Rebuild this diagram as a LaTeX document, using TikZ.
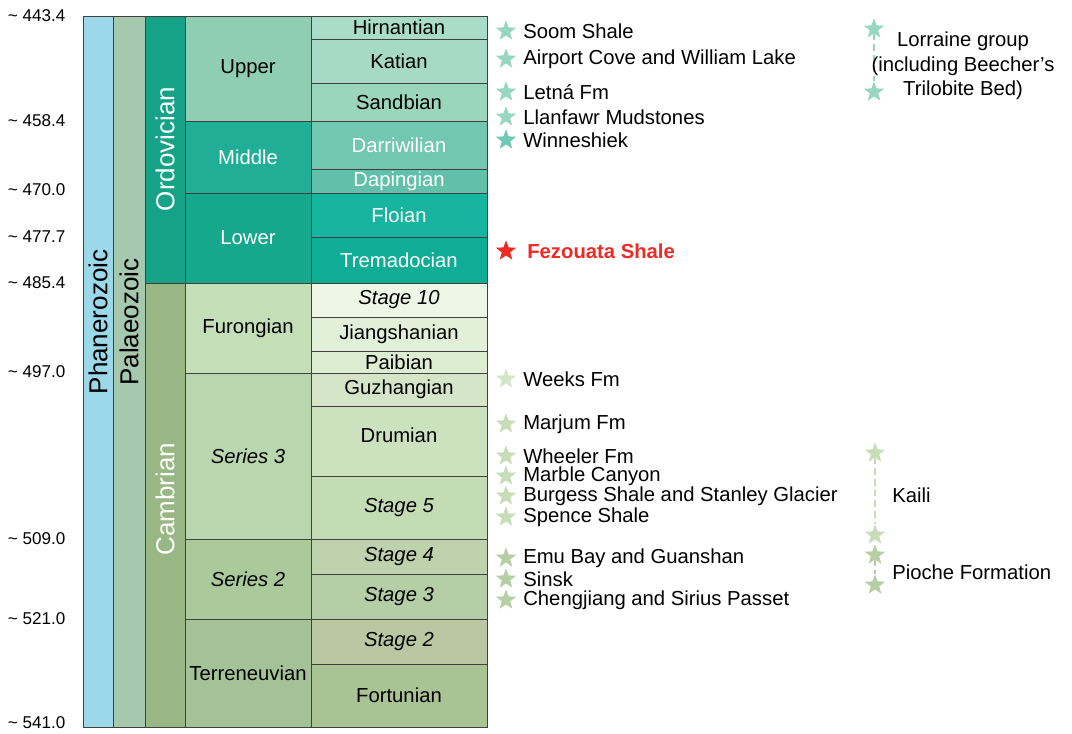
\documentclass[tikz,border=0pt]{standalone}
\usepackage{fontspec}
\setmainfont{Liberation Sans}
\usetikzlibrary{shapes.geometric, positioning, fit}

\definecolor{phan}{HTML}{9AD8EA}
\definecolor{palaeo}{HTML}{A6C8AE}
\definecolor{ordo}{HTML}{16A287}
\definecolor{camb}{HTML}{99B784}
\definecolor{upper}{HTML}{90CEB3}
\definecolor{middle}{HTML}{20AF96}
\definecolor{lower}{HTML}{15A88D}
\definecolor{hirn}{HTML}{AADDC9}
\definecolor{kati}{HTML}{A6DAC6}
\definecolor{sand}{HTML}{9AD5BC}
\definecolor{darri}{HTML}{72C7B3}
\definecolor{dapi}{HTML}{62C0AA}
\definecolor{floi}{HTML}{17B4A0}
\definecolor{trema}{HTML}{10AD96}
\definecolor{furo}{HTML}{C4DFB8}
\definecolor{stten}{HTML}{EEF6E5}
\definecolor{jiang}{HTML}{E2F0D9}
\definecolor{paib}{HTML}{DCEDD2}
\definecolor{serthree}{HTML}{B9D7AE}
\definecolor{guzh}{HTML}{D5E6C8}
\definecolor{drum}{HTML}{CCE2BF}
\definecolor{stfive}{HTML}{C3DCB4}
\definecolor{sertwo}{HTML}{AACA9B}
\definecolor{stfour}{HTML}{BED3AD}
\definecolor{stthree}{HTML}{B5CEA6}
\definecolor{terre}{HTML}{A3C297}
\definecolor{sttwo}{HTML}{B9C8A3}
\definecolor{fortu}{HTML}{AAC394}
\definecolor{ostar}{HTML}{97D7C2}
\definecolor{ostardk}{HTML}{6FC9B5}
\definecolor{cstar}{HTML}{C6DDB8}
\definecolor{cstarlt}{HTML}{D3E6C7}
\definecolor{cstardk}{HTML}{B5CEA3}
\definecolor{fezred}{HTML}{EE2A24}

\begin{document}
\begin{tikzpicture}[
  x=0.75pt, y=-0.75pt,
  cell/.style={rectangle, draw=black!75, line width=0.7pt, inner sep=0pt},
  celltext/.style={font=\fontsize{15.2}{17}\selectfont, inner sep=0pt},
  txt/.style={label={[celltext]center:#1}},
  wtxt/.style={label={[celltext, text=white]center:#1}},
  itxt/.style={label={[celltext, font=\fontsize{15.2}{17}\selectfont\itshape]center:#1}},
  vlabel/.style={rotate=90, font=\fontsize{19.5}{22}\selectfont},
  agelabel/.style={anchor=east, font=\fontsize{12.8}{15}\selectfont},
  fossil/.style={star, star points=5, star point ratio=2.4, minimum size=16pt, inner sep=0pt, fill=#1},
  ftext/.style={anchor=west, font=\fontsize{15.2}{17}\selectfont, inner sep=0pt},
  link/.style={dashed, dash pattern=on 5pt off 3pt, line width=1.2pt, #1},
]
\useasboundingbox (0,0) rectangle (1072,733);

% eon and era columns
\node[cell, fill=phan, fit={(83,16) (113,727)}]    (phanerozoic) {};
\node[cell, fill=palaeo, fit={(113,16) (145,727)}] (palaeozoic) {};
\node[vlabel] at (98,322)  (phanlbl) {Phanerozoic};
\node[vlabel] at (129,322) (palaeolbl) {Palaeozoic};

% systems
\node[cell, fill=ordo, fit={(145,16) (185,283)}]  (ordovician) {};
\node[cell, fill=camb, fit={(145,283) (185,727)}] (cambrian) {};
\node[vlabel, text=white] at (165,149) (ordolbl) {Ordovician};
\node[vlabel, text=white] at (165,499) (camblbl) {Cambrian};

% series
\node[cell, fill=upper, fit={(185,16) (311,121)}, txt=Upper]           (upper)  {};
\node[cell, fill=middle, fit={(185,121) (311,193)}, wtxt=Middle]       (middle) {};
\node[cell, fill=lower, fit={(185,193) (311,283)}, wtxt=Lower]         (lower)  {};
\node[cell, fill=furo, fit={(185,283) (311,373)}, txt=Furongian]       (furongian) {};
\node[cell, fill=serthree, fit={(185,373) (311,539)}, itxt=Series 3]   (series3) {};
\node[cell, fill=sertwo, fit={(185,539) (311,619)}, itxt=Series 2]     (series2) {};
\node[cell, fill=terre, fit={(185,619) (311,727)}, txt=Terreneuvian]   (terreneuvian) {};

% stages
\node[cell, fill=hirn, fit={(311,16) (487,39)}, txt=Hirnantian]        (hirnantian) {};
\node[cell, fill=kati, fit={(311,39) (487,83)}, txt=Katian]            (katian) {};
\node[cell, fill=sand, fit={(311,83) (487,121)}, txt=Sandbian]         (sandbian) {};
\node[cell, fill=darri, fit={(311,121) (487,169)}, wtxt=Darriwilian]   (darriwilian) {};
\node[cell, fill=dapi, fit={(311,169) (487,193)}, wtxt=Dapingian]      (dapingian) {};
\node[cell, fill=floi, fit={(311,193) (487,237)}, wtxt=Floian]         (floian) {};
\node[cell, fill=trema, fit={(311,237) (487,283)}, wtxt=Tremadocian]   (tremadocian) {};
\node[cell, fill=stten, fit={(311,283) (487,317)}, itxt=Stage 10]      (stage10) {};
\node[cell, fill=jiang, fit={(311,317) (487,351)}, txt=Jiangshanian]   (jiangshanian) {};
\node[cell, fill=paib, fit={(311,351) (487,373)}, txt=Paibian]         (paibian) {};
\node[cell, fill=guzh, fit={(311,373) (487,406)}, txt=Guzhangian]      (guzhangian) {};
\node[cell, fill=drum, fit={(311,406) (487,476)}, label={[celltext, yshift=4.5pt]center:Drumian}] (drumian) {};
\node[cell, fill=stfive, fit={(311,476) (487,539)}, itxt=Stage 5]      (stage5) {};
\node[cell, fill=stfour, fit={(311,539) (487,574)}, itxt=Stage 4]      (stage4) {};
\node[cell, fill=stthree, fit={(311,574) (487,619)}, itxt=Stage 3]     (stage3) {};
\node[cell, fill=sttwo, fit={(311,619) (487,664)}, itxt=Stage 2]       (stage2) {};
\node[cell, fill=fortu, fit={(311,664) (487,727)}, txt=Fortunian]      (fortunian) {};

% ages
\node[agelabel] at (70,16)  (a1) {\textasciitilde\ 443.4};
\node[agelabel] at (70,121) (a2) {\textasciitilde\ 458.4};
\node[agelabel] at (70,190) (a3) {\textasciitilde\ 470.0};
\node[agelabel] at (70,237) (a4) {\textasciitilde\ 477.7};
\node[agelabel] at (70,283) (a5) {\textasciitilde\ 485.4};
\node[agelabel] at (70,372) (a6) {\textasciitilde\ 497.0};
\node[agelabel] at (70,539) (a7) {\textasciitilde\ 509.0};
\node[agelabel] at (70,619) (a8) {\textasciitilde\ 521.0};
\node[agelabel] at (70,723) (a9) {\textasciitilde\ 541.0};

% fossil sites
\node[fossil=ostar] at (506,31)   (soom) {};
\node[fossil=ostar] at (506,59)   (airport) {};
\node[fossil=ostar] at (506,92)   (letna) {};
\node[fossil=ostar] at (506,117)  (llanfawr) {};
\node[fossil=ostardk] at (506,140) (winneshiek) {};
\node[fossil=fezred] at (506,251) (fezouata) {};
\node[fossil=cstarlt] at (506,379) (weeks) {};
\node[fossil=cstar] at (506,424)  (marjum) {};
\node[fossil=cstar] at (506,456)  (wheeler) {};
\node[fossil=cstar] at (506,476)  (marble) {};
\node[fossil=cstar] at (506,496)  (burgess) {};
\node[fossil=cstar] at (506,517)  (spence) {};
\node[fossil=cstardk] at (506,558) (emubay) {};
\node[fossil=cstardk] at (506,579) (sinsk) {};
\node[fossil=cstardk] at (506,600) (chengjiang) {};

\node[ftext, right=8pt of soom]       {Soom Shale};
\node[ftext, right=8pt of airport]    {Airport Cove and William Lake};
\node[ftext, right=8pt of letna]      {Letná Fm};
\node[ftext, right=8pt of llanfawr]   {Llanfawr Mudstones};
\node[ftext, right=8pt of winneshiek] {Winneshiek};
\node[ftext, right=11pt of fezouata, text=fezred, font=\fontsize{15.2}{17}\selectfont\bfseries] {Fezouata Shale};
\node[ftext, right=8pt of weeks]      {Weeks Fm};
\node[ftext, right=8pt of marjum]     {Marjum Fm};
\node[ftext, right=8pt of wheeler]    {Wheeler Fm};
\node[ftext, right=8pt of marble]     {Marble Canyon};
\node[ftext, right=8pt of burgess]    {Burgess Shale and Stanley Glacier};
\node[ftext, right=8pt of spence]     {Spence Shale};
\node[ftext, right=8pt of emubay]     {Emu Bay and Guanshan};
\node[ftext, right=8pt of sinsk]      {Sinsk};
\node[ftext, right=8pt of chengjiang] {Chengjiang and Sirius Passet};

% ranges
\node[fossil=ostar] at (874,29)  (lorr1) {};
\node[fossil=ostar] at (874,92)  (lorr2) {};
\node[fossil=cstar] at (875,453) (kaili1) {};
\node[fossil=cstar] at (875,535) (kaili2) {};
\node[fossil=cstardk] at (875,555) (pioche1) {};
\node[fossil=cstardk] at (875,585) (pioche2) {};

\draw[link=ostar]   (lorr1) -- (lorr2);
\draw[link=cstar]   (kaili1) -- (kaili2);
\draw[link=cstardk] (pioche1) -- (pioche2);

\node[align=center, font=\fontsize{15.2}{18.4}\selectfont] at (963,66) (lorraine) {Lorraine group\\(including Beecher’s\\Trilobite Bed)};
\node[ftext] at (892,495) (kaili) {Kaili};
\node[ftext] at (892,572) (pioche) {Pioche Formation};
\end{tikzpicture}
\end{document}
